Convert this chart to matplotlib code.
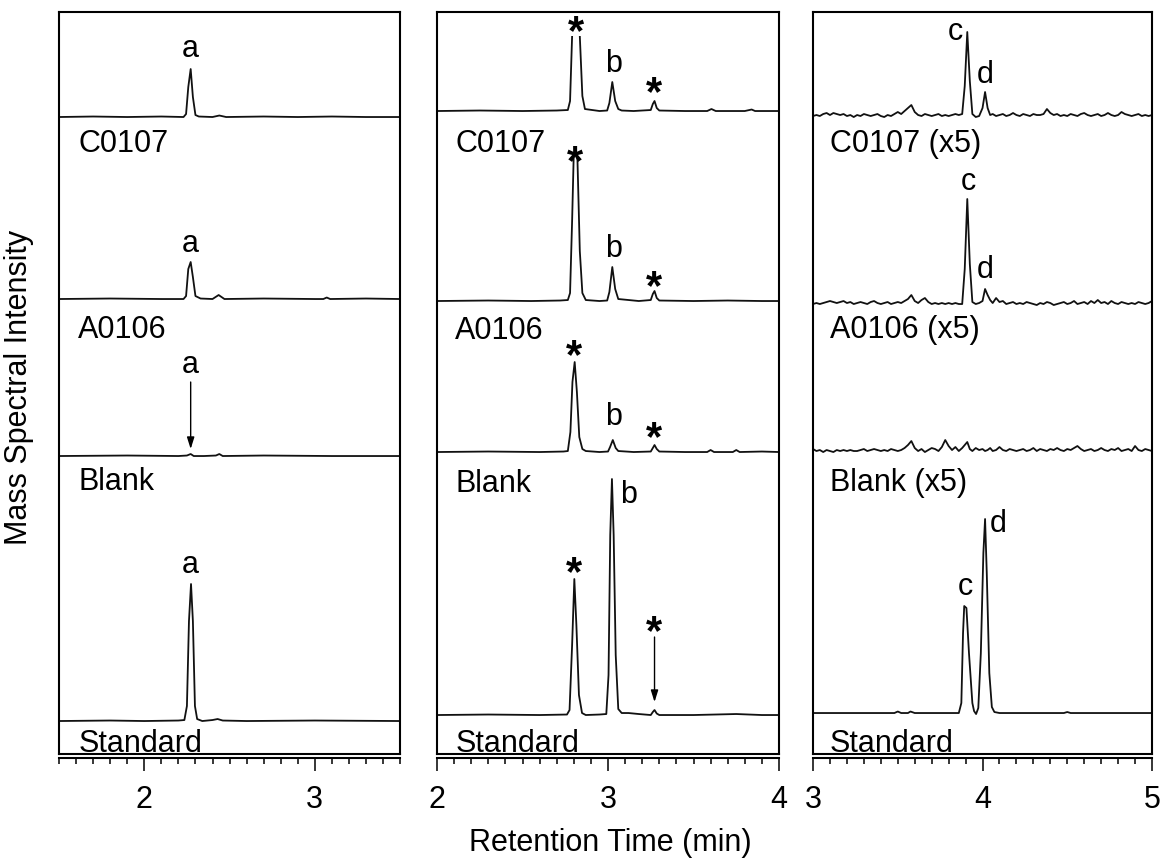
import matplotlib
matplotlib.use("Agg")
import matplotlib.pyplot as plt
from matplotlib.patches import Rectangle
from matplotlib.ticker import MultipleLocator

plt.rcParams['font.family'] = ['Liberation Sans', 'DejaVu Sans']

# ---------------- panel 1 (peak a), retention time in min, intensity in arb. units
p1_c0107_t = [1.50, 1.70, 1.90, 2.10, 2.23, 2.245, 2.258, 2.272, 2.285, 2.30,
              2.32, 2.40, 2.44, 2.48, 2.70, 2.90, 3.10, 3.30, 3.50]
p1_c0107_i = [0, 0.5, 0, 0.5, 0, 3, 30, 48, 20, 2,
              0.5, 0, 1.5, 0, 0.5, 0, 0.5, 0, 0]

p1_a0106_t = [1.50, 1.80, 2.10, 2.23, 2.245, 2.258, 2.272, 2.285, 2.30, 2.33,
              2.40, 2.436, 2.47, 2.70, 3.00, 3.05, 3.07, 3.09, 3.30, 3.50]
p1_a0106_i = [0, 0.5, 0, 0, 3, 30, 37, 22, 3, 0.5,
              0, 4, 0, 0.5, 0, 0, 1.5, 0, 0.5, 0]

p1_blank_t = [1.50, 1.90, 2.20, 2.25, 2.272, 2.29, 2.35, 2.42, 2.44, 2.46, 2.70, 3.10, 3.50]
p1_blank_i = [0, 0.5, 0, 0.5, 2, 0, 0, 0.5, 2, 0, 0.5, 0, 0]

p1_std_t = [1.50, 1.80, 2.00, 2.20, 2.235, 2.25, 2.262, 2.274, 2.285, 2.297,
            2.31, 2.34, 2.40, 2.43, 2.46, 2.60, 3.00, 3.50]
p1_std_i = [0, 0.5, 0, 0.5, 1, 15, 100, 137, 100, 15,
            2, 0, 1, 2, 0.5, 0, 0.5, 0]

# ---------------- panel 2 (peak b and * peaks)
p2_c0107_t = [2.00, 2.25, 2.50, 2.70, 2.765, 2.778, 2.79, 2.80, 2.815, 2.835,
              2.85, 2.865, 2.95, 2.995, 3.008, 3.025, 3.042, 3.06, 3.08, 3.15,
              3.25, 3.262, 3.272, 3.285, 3.30, 3.45, 3.58, 3.605, 3.63, 3.80,
              3.84, 3.86, 3.90, 4.00]
p2_c0107_i = [0, 0.5, 0, 0.5, 1, 10, 75, 160, 160, 75,
              15, 2, 0, 0.5, 8, 29, 10, 2, 0.5, 0,
              1, 7, 10, 3, 0.5, 0, 0, 2, 0, 0,
              1.5, 0, 0, 0]

p2_a0106_t = [2.00, 2.30, 2.55, 2.72, 2.765, 2.778, 2.79, 2.80, 2.81, 2.82,
              2.835, 2.85, 2.87, 2.95, 2.995, 3.008, 3.025, 3.042, 3.06, 3.18,
              3.25, 3.262, 3.272, 3.285, 3.30, 3.50, 3.70, 3.90, 4.00]
p2_a0106_i = [0, 0.5, 0, 0.5, 1, 8, 80, 150, 160, 150,
              50, 8, 1, 0, 0.5, 9, 34, 12, 2, 0,
              1, 7, 10, 3, 0.5, 0, 0.5, 0, 0]

p2_blank_t = [2.00, 2.30, 2.60, 2.74, 2.765, 2.78, 2.792, 2.805, 2.818, 2.832,
              2.85, 2.87, 2.95, 3.00, 3.012, 3.028, 3.045, 3.06, 3.15, 3.25,
              3.262, 3.272, 3.285, 3.30, 3.45, 3.58, 3.60, 3.62, 3.73, 3.75,
              3.77, 3.90, 4.00]
p2_blank_i = [0, 0.5, 0, 0.5, 1, 20, 70, 90, 60, 15,
              3, 1, 0, 0.5, 5, 12, 4, 1, 0, 0.5,
              4, 7, 3, 0.5, 0, 0, 2, 0, 0, 2,
              0, 0.5, 0]

p2_std_t = [2.00, 2.30, 2.60, 2.76, 2.775, 2.79, 2.803, 2.815, 2.83, 2.848,
            2.87, 2.95, 2.99, 3.003, 3.013, 3.023, 3.033, 3.045, 3.06, 3.08,
            3.12, 3.18, 3.25, 3.262, 3.272, 3.285, 3.30, 3.50, 3.75, 3.90,
            4.00]
p2_std_i = [0, 0.5, 0, 0.5, 5, 70, 136, 90, 20, 2,
            0, 0.5, 1, 40, 180, 236, 180, 60, 6, 2,
            2, 1, 0, 3, 5, 1.5, 0, 0, 1, 0,
            0]

# ---------------- panel 3 (peaks c, d); samples shown x5
p3_time = [3.00, 3.02, 3.04, 3.06, 3.08, 3.10, 3.12, 3.14, 3.16, 3.18,
           3.20, 3.22, 3.24, 3.26, 3.28, 3.30, 3.32, 3.34, 3.36, 3.38,
           3.40, 3.42, 3.44, 3.46, 3.48, 3.50, 3.52, 3.54, 3.56, 3.58,
           3.60, 3.62, 3.64, 3.66, 3.68, 3.70, 3.72, 3.74, 3.76, 3.78,
           3.80, 3.82, 3.84, 3.86,
           3.88, 3.895, 3.91, 3.925, 3.94, 3.96, 3.98, 4.00, 4.015, 4.03, 4.045, 4.06,
           4.08, 4.10, 4.12, 4.14, 4.16, 4.18, 4.20, 4.22, 4.24, 4.26,
           4.28, 4.30, 4.32, 4.34, 4.36, 4.38, 4.40, 4.42, 4.44, 4.46,
           4.48, 4.50, 4.52, 4.54, 4.56, 4.58, 4.60, 4.62, 4.64, 4.66,
           4.68, 4.70, 4.72, 4.74, 4.76, 4.78, 4.80, 4.82, 4.84, 4.86,
           4.88, 4.90, 4.92, 4.94, 4.96, 4.98, 5.00]

p3_c0107_i = [0, 1, 0, 2, 3, 1, 3, 2, 1, 2,
              0, 1, -1, 1, 0, 2, 1, 0, 1, 2,
              0, -1, 1, 0, 2, 4, 2, 5, 8, 11,
              4, 1, 0, 2, 1, 0, 1, 2, 0, 1,
              0, 1, 2, 1,
              2, 30, 84, 35, 2, -1, 0, 8, 24, 8, 1, 2,
              0, 1, 2, 0, 1, 3, 1, 0, 2, 1,
              0, 2, 1, 1, 2, 7, 3, 1, 2, 0,
              1, 0, 2, 1, 0, 2, 3, 1, 0, 1,
              2, 0, 1, 3, 1, 0, 1, 4, 2, 1,
              0, 1, 2, 0, 1, 0, 1]

p3_a0106_i = [0, 1, 0, 1, 2, 3, 2, 1, 2, 3,
              1, 2, 0, 1, 2, 1, 0, 2, 3, 1,
              0, 1, 2, 0, 1, 2, 1, 3, 5, 9,
              3, 1, 4, 6, 2, 0, 1, 0, 1, 0,
              1, 0, 1, 0,
              0, 35, 105, 40, 2, 0, 1, 3, 15, 9, 4, 1,
              6, 2, 3, 0, 1, 2, 0, 1, 0, 2,
              1, 0, -1, 1, 0, 2, 1, -1, 0, 1,
              2, 0, 1, 3, 0, 1, 2, 0, 3, 1,
              4, 1, 2, 0, 3, 1, 0, 2, 1, 0,
              1, 0, 2, 1, 0, 1, 3]

p3_blank_i = [2, 0, 1, -1, 1, 0, -1, 1, 0, 1,
              0, 1, 0, 0, 1, 2, 0, 1, 2, 1,
              0, 1, 0, 2, 1, 0, 1, 3, 6, 10,
              3, 0, 2, -1, 1, 3, 2, 0, 4, 11,
              5, 1, 4, 0,
              3, 6, 9, 2, 0, 3, 1, 2, 0, 1, 3, 0,
              1, 4, 1, 0, 2, 1, 0, 1, 2, 0,
              1, 3, 0, 2, 1, 0, 2, 1, 3, 1,
              0, 2, 1, 3, 5, 2, 0, 1, 2, 0,
              1, 3, 1, 0, 2, 1, 3, 0, 1, 2,
              0, 5, 1, 0, 2, 1, 0]

p3_std_t = [3.00, 3.30, 3.48, 3.50, 3.52, 3.56, 3.575, 3.60, 3.80, 3.86,
            3.875, 3.885, 3.892, 3.905, 3.92, 3.94, 3.95, 3.962, 3.975, 3.99,
            4.005, 4.015, 4.025, 4.04, 4.055, 4.07, 4.10, 4.30, 4.48, 4.50,
            4.52, 4.80, 5.00]
p3_std_i = [0, 0, 0, 1.5, 0, 0, 1.5, 0, 0, 0,
            10, 80, 107, 105, 60, 10, 2, -1, 5, 60,
            160, 194, 140, 40, 6, 1, 0, 0, 0, 1,
            0, 0, 0]

sample_names = ['C0107', 'A0106', 'Blank', 'Standard']
x5_names = ['C0107 (x5)', 'A0106 (x5)', 'Blank (x5)', 'Standard']

# ---------------- figure
fig = plt.figure(figsize=(11.62, 8.62), dpi=100)
ax1 = fig.add_axes([0.0508, 0.1241, 0.2935, 0.8608])
ax2 = fig.add_axes([0.3761, 0.1241, 0.2943, 0.8608])
ax3 = fig.add_axes([0.6997, 0.1241, 0.2917, 0.8608])

FS = 22
LW = 1.3


def setup(ax, lo, hi):
    ax.set_xlim(lo, hi)
    ax.set_ylim(0, 742)
    ax.set_yticks([])
    ax.xaxis.set_major_locator(MultipleLocator(1))
    ax.xaxis.set_minor_locator(MultipleLocator(0.1))
    ax.tick_params(axis='x', which='major', direction='out', length=9.5,
                   width=1.1, labelsize=FS, pad=9)
    ax.tick_params(axis='x', which='minor', direction='out', length=4.5, width=1.1)
    for s in ax.spines.values():
        s.set_linewidth(1.5)
        s.set_zorder(6)
    ax.spines['bottom'].set_position(('outward', 3))
    ax.axhline(0, color='k', lw=1.5, clip_on=False)


def trace(ax, t, i, off):
    ax.plot(t, [v + off for v in i], color='#111111', lw=LW)


setup(ax1, 1.5, 3.5)
setup(ax2, 2, 4)
setup(ax3, 3, 5)

arrow = dict(arrowstyle='-|>,head_length=0.7,head_width=0.22',
             color='k', lw=1.0, shrinkA=0, shrinkB=0)

# panel 1
offs1 = [637, 455, 298, 33]
for (t, i), off in zip([(p1_c0107_t, p1_c0107_i), (p1_a0106_t, p1_a0106_i),
                        (p1_blank_t, p1_blank_i), (p1_std_t, p1_std_i)], offs1):
    trace(ax1, t, i, off)
for name, y in zip(sample_names, [603, 417, 265, 3]):
    ax1.text(0.056, y, name, transform=ax1.get_yaxis_transform(), fontsize=FS, va='baseline')
for y in [698, 503, 382, 182]:
    ax1.text(2.272, y, 'a', fontsize=FS, ha='center', va='baseline')
ax1.annotate('', xy=(2.272, 305), xytext=(2.272, 372), arrowprops=arrow)

# panel 2
offs2 = [643, 453, 302, 39]
for (t, i), off in zip([(p2_c0107_t, p2_c0107_i), (p2_a0106_t, p2_a0106_i),
                        (p2_blank_t, p2_blank_i), (p2_std_t, p2_std_i)], offs2):
    trace(ax2, t, i, off)
for name, y in zip(sample_names, [603, 416, 263, 3]):
    ax2.text(0.053, y, name, transform=ax2.get_yaxis_transform(), fontsize=FS, va='baseline')
for x, y in zip([3.03, 3.03, 3.03, 3.12], [683, 498, 330, 252]):
    ax2.text(x, y, 'b', fontsize=FS, ha='center', va='baseline')

# the tall * peaks run under their labels: blank out the tops
ax2.add_patch(Rectangle((2.77, 718), 0.09, 30, fc='white', ec='none', zorder=4))
ax2.add_patch(Rectangle((2.77, 598), 0.07, 30, fc='white', ec='none', zorder=4))

star_kw = dict(fontsize=30, fontweight='bold', ha='center', va='center', zorder=5)
for x, y in [(2.812, 722), (2.808, 592), (2.80, 398), (2.80, 181)]:
    ax2.text(x, y, '*', **star_kw)
for y in [661, 467, 316, 122]:
    ax2.text(3.27, y, '*', **star_kw)
ax2.annotate('', xy=(3.272, 52), xytext=(3.272, 117), arrowprops=arrow)

# panel 3
offs3 = [638, 450, 303, 41]
for i, off in zip([p3_c0107_i, p3_a0106_i, p3_blank_i], offs3[:3]):
    trace(ax3, p3_time, i, off)
trace(ax3, p3_std_t, p3_std_i, offs3[3])
for name, y in zip(x5_names, [603, 417, 264, 3]):
    ax3.text(0.05, y, name, transform=ax3.get_yaxis_transform(), fontsize=FS, va='baseline')
for s, x, y in [('c', 3.842, 715), ('d', 4.018, 672), ('c', 3.914, 565),
                ('d', 4.018, 477), ('c', 3.90, 160), ('d', 4.094, 223)]:
    ax3.text(x, y, s, fontsize=FS, ha='center', va='baseline')

fig.text(0.016, 0.551, 'Mass Spectral Intensity', rotation=90, fontsize=FS,
         ha='center', va='center')
fig.text(0.525, 0.022, 'Retention Time (min)', fontsize=FS, ha='center', va='center')

fig.savefig('out.png', dpi=100)
